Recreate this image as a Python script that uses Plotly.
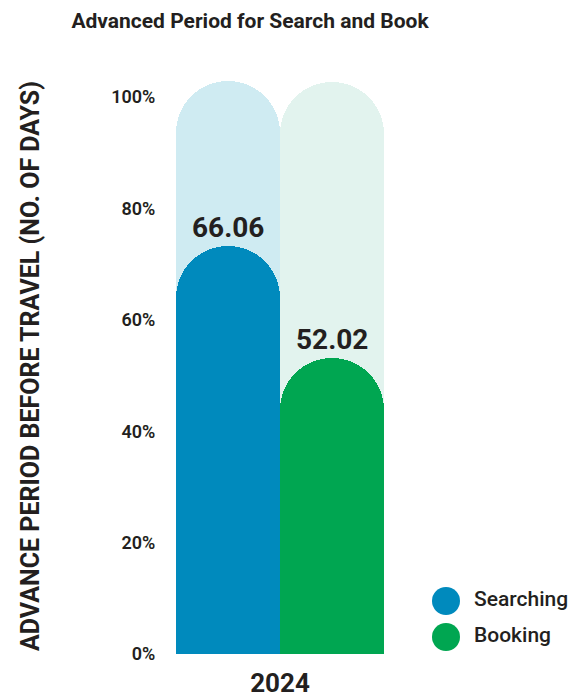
import plotly.graph_objects as go

# ---- data ----
years = ["2024"]
series = ["Searching", "Booking"]
values_days = [66.06, 52.02]          # labels shown above the bars
bar_heights = [73.2, 53.1]            # drawn height on the % axis
track_heights = [102.9, 102.7]        # light background tracks
y_ticks = [0, 20, 40, 60, 80, 100]
y_ticktext = [f"{v}%" for v in y_ticks]

colors = ["#008ABD", "#00A651"]
track_colors = ["#CFEBF2", "#E2F3EE"]
text_color = "#231F20"
FONT = "Roboto"

W, H = 581, 700
bar_w = 0.452
positions = [-bar_w / 2, bar_w / 2]

fig = go.Figure()

# background tracks on main axes
for i, s in enumerate(series):
    fig.add_trace(go.Bar(
        x=[positions[i]], y=[track_heights[i]], width=bar_w,
        marker=dict(color=track_colors[i], cornerradius="50%", line_width=0),
        showlegend=False, hoverinfo="skip"))
# value bars on overlaying axes so each gets its own rounded top
for i, s in enumerate(series):
    fig.add_trace(go.Bar(
        x=[positions[i]], y=[bar_heights[i]], width=bar_w, name=s,
        marker=dict(color=colors[i], cornerradius="50%", line_width=0),
        xaxis="x3", yaxis="y3", showlegend=False))

# value labels
for i, v in enumerate(values_days):
    fig.add_annotation(
        x=positions[i], y=bar_heights[i], xref="x", yref="y",
        text=f"{v:.2f}", showarrow=False, yanchor="middle", yshift=19,
        font=dict(family=FONT, size=28, color=text_color, weight="bold"))

# custom legend (large circles)
fig.add_trace(go.Scatter(
    x=[0] * len(series), y=list(range(len(series))), mode="markers",
    marker=dict(size=28, color=colors), xaxis="x2", yaxis="y2",
    showlegend=False, hoverinfo="skip"))
fig.add_trace(go.Scatter(
    x=[1] * len(series), y=list(range(len(series))), mode="text",
    text=series, textposition="middle right",
    textfont=dict(family=FONT, size=21, color=text_color, weight=500),
    xaxis="x2", yaxis="y2", showlegend=False, hoverinfo="skip"))

xdom = [165 / W, 395 / W]
ydom = [(H - 654) / H, (H - 60) / H]
yrange = [0, 106.64]

fig.update_layout(
    width=W, height=H, autosize=False,
    margin=dict(l=0, r=0, t=0, b=0),
    paper_bgcolor="white", plot_bgcolor="white",
    barmode="overlay", bargap=0,
    title=dict(text="Advanced Period for Search and Book",
               x=250 / W, xanchor="center", xref="container",
               y=1 - 21 / H, yanchor="middle", yref="container",
               font=dict(family=FONT, size=21, color=text_color, weight="bold")),
    xaxis=dict(domain=xdom, range=[-0.5, 0.5], automargin=False,
               tickvals=[0], ticktext=years, showgrid=False, zeroline=False,
               showline=False, ticks="outside", ticklen=6,
               tickcolor="rgba(0,0,0,0)",
               tickfont=dict(family=FONT, size=26, color=text_color, weight="bold"),
               fixedrange=True),
    yaxis=dict(domain=ydom, range=yrange, automargin=False,
               tickvals=y_ticks, ticktext=y_ticktext, showgrid=False,
               zeroline=False, showline=False, ticks="outside", ticklen=5,
               tickcolor="rgba(0,0,0,0)",
               tickfont=dict(family=FONT, size=18, color=text_color, weight=600),
               fixedrange=True),
    xaxis3=dict(domain=xdom, range=[-0.5, 0.5], overlaying="x", visible=False,
                anchor="y3", fixedrange=True, automargin=False),
    yaxis3=dict(domain=ydom, range=yrange, overlaying="y", visible=False,
                anchor="x3", fixedrange=True, automargin=False),
    xaxis2=dict(domain=[432 / W, 1], range=[-0.5, 4.82], visible=False,
                anchor="y2", fixedrange=True, automargin=False),
    yaxis2=dict(domain=[(H - 655) / H, (H - 583) / H], range=[1.5, -0.5],
                visible=False, anchor="x2", fixedrange=True, automargin=False),
    annotations=list(fig.layout.annotations) + [dict(
        x=30 / W, y=(H - 366) / H, xref="paper", yref="paper",
        text="ADVANCE PERIOD BEFORE TRAVEL (NO. OF DAYS)", textangle=-90,
        showarrow=False, xanchor="center", yanchor="middle",
        font=dict(family=FONT, size=25, color=text_color, weight="bold"))],
)

fig.write_html("out.html", config={"responsive": False})
